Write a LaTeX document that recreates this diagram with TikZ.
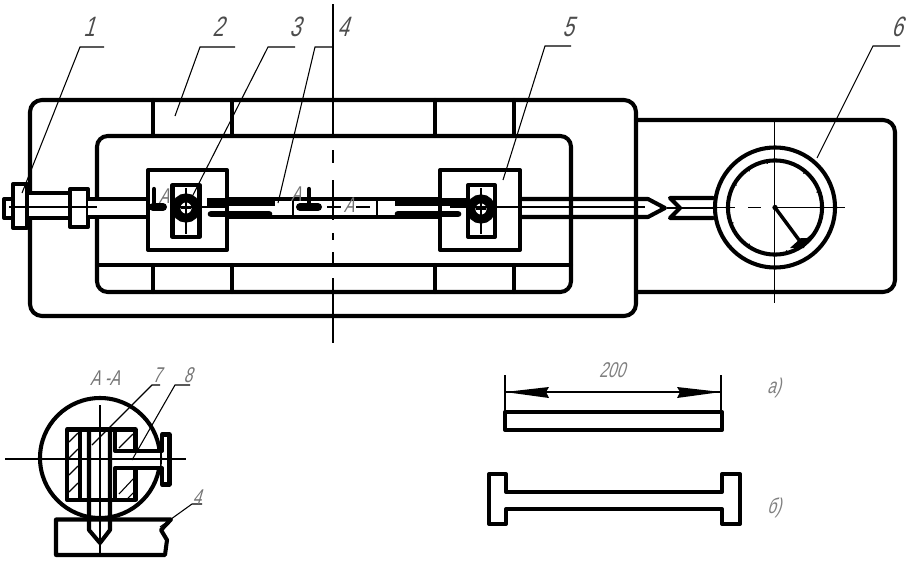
\documentclass[tikz,border=0pt]{standalone}
\usepackage{fontspec}
\setmainfont{Liberation Sans}
\newfontfamily\gost[FakeStretch=0.72,FakeSlant=0.3]{Liberation Sans}
\tikzset{
  thick line/.style={line width=3.05pt,line join=round,line cap=round},
  mid line/.style={line width=2pt,line join=round},
  thin line/.style={line width=0.8pt},
  lbl/.style={inner sep=0pt,text=black!70,font=\gost\fontsize{21}{21}\selectfont},
  slbl/.style={inner sep=0pt,text=black!55,font=\gost\fontsize{16}{16}\selectfont},
}
\begin{document}
\begin{tikzpicture}[x=0.75pt,y=-0.75pt]
\useasboundingbox (0,0) rectangle (915,564);
% housing
\draw[thick line,rounded corners=9] (636,120) -- (895,120) -- (895,292) -- (636,292);
\draw[thick line,rounded corners=9] (30,100) rectangle (636,316);
\draw[thick line,rounded corners=8] (97,136) rectangle (571,292);
\draw[thick line] (97,265) -- (571,265);
\foreach \x in {153,232,435,514}{
  \draw[thick line] (\x,100) -- (\x,136);
  \draw[thick line] (\x,265) -- (\x,292);
}
% left fitting
\draw[thick line,fill=white] (4,199) rectangle (13,218);
\draw[thick line,fill=white] (13,184) rectangle (27,228);
\draw[thick line,fill=white] (27,193) rectangle (70,218);
\draw[thick line,fill=white] (70,189) rectangle (88,227);
% rod
\fill[white] (88,200) rectangle (147,216);
\draw[thick line] (88,199) -- (147,199) (88,217) -- (147,217);
\draw[thick line] (228,199) -- (440,199) (228,217) -- (440,217);
\draw[thick line] (520,199) -- (648,199) -- (665,208) -- (648,217) -- (520,217);
\draw[thin line] (9,207) -- (97,207);
\draw[thin line] (520,207) -- (645,207);
% rod inner slots
\fill[white] (205,201) rectangle (436,215);
\fill (228,198) rectangle (275,206);
\draw[mid line] (293,199) -- (293,217) (377,199) -- (377,217);
% blocks
\draw[thick line,fill=white] (148,170) rectangle (227,250);
\draw[thick line] (172.5,185) rectangle (199.5,237);
\fill (207,198) rectangle (228,206);
\draw[line width=5pt,line cap=round] (211,214) -- (269,214);
\draw[thick line,fill=white] (440,170) rectangle (520,250);
\draw[thick line] (468,185) rectangle (495,237);
\fill (395,198) rectangle (468,206);
\draw[line width=5pt,line cap=round] (398,214) -- (458,214);
\draw[thin line] (186,188) -- (186,234) (176,207) -- (226,207);
\draw[thin line] (481,188) -- (481,234) (450,207) -- (518,207);
\draw[line width=6.6pt] (186,208) circle (7.6pt);
\draw[line width=6.6pt] (481,209) circle (7.6pt);
\draw[thin line] (186,203) -- (186,213) (181,208) -- (191,208);
\draw[thin line] (481,204) -- (481,214) (476,209) -- (486,209);
% section marks
\draw[line width=3.2pt,line cap=round] (154,189) -- (154,205);
\draw[line width=6pt,line cap=round] (153,207) -- (163,207);
\draw[line width=3.2pt,line cap=round] (309,189) -- (309,205);
\draw[line width=6pt,line cap=round] (300,207) -- (318,207);
\draw[thin line] (327,207) -- (341,207) (356,207) -- (370,207);
% centre line
\draw[thin line] (333,4) -- (333,136);
\draw[thin line] (333,150) -- (333,163) (333,180) -- (333,220) (333,233) -- (333,240) (333,252) -- (333,265) (333,278) -- (333,343);
% gauge stub
\draw[thick line] (713,198) -- (670,198) -- (680,208) -- (670,218) -- (713,218);
\draw[thin line] (667,208) -- (713,208);
% gauge
\draw[thick line,fill=white] (775,207.5) circle (45pt);
\draw[thick line] (775,207.5) circle (35.3pt);
\foreach \a in {20,50,100,125,150,200,235,285,310}{
  \draw[line width=0.8pt] (775,207.5) ++(\a:33.2pt) -- ++(\a:2pt);
}
\draw[thin line] (774.5,120) -- (774.5,303);
\draw[thin line] (713,207.5) -- (735,207.5) (748,207.5) -- (761,207.5) (775,207.5) -- (845,207.5);
\draw[line width=2.6pt] (775,207.5) -- (802,244);
\fill (790,248) -- (801,238) -- (808,238) -- (804,248) -- cycle;
\draw[thin line] (803,242) -- (815,232);
\fill (775,207.5) circle (2pt);
% leaders
\draw[thin line] (104,47) -- (80,47) -- (22,193);
\draw[thin line] (235,47) -- (200,47) -- (175,116);
\draw[thin line] (295,47) -- (268,47) -- (192,197);
\draw[thin line] (333,47) -- (315,47) -- (278,203);
\draw[thin line] (571,46) -- (545,46) -- (503,180);
\draw[thin line] (900,46) -- (873,46) -- (817,158);
\node[lbl] (n1) at (89,27) {1};
\node[lbl] (n2) at (218,27) {2};
\node[lbl] (n3) at (295,27) {3};
\node[lbl] (n4) at (343,27) {4};
\node[lbl] (n5) at (568,27) {5};
\node[lbl] (n6) at (897,27) {6};
\node[slbl] (sa1) at (164,196) {А};
\node[slbl] (sa2) at (296,194) {А};
\node[slbl] (sa3) at (349,205) {А};
% section A-A
\node[slbl] (aa) at (105,378) {А -А};
\draw[thick line] (100,458) circle (45pt);
\draw[thick line,fill=white] (67,429.5) rectangle (135.5,500);
\fill[white] (113,449) rectangle (160,470);
\draw[thick line] (80,430) -- (80,499);
\draw[thick line] (89,430) -- (89,530) -- (100,543) -- (110,530) -- (110,430);
\draw[thick line] (115,430) -- (115,451) -- (162,451) -- (162,434.5) -- (169.5,434.5) -- (169.5,484.5) -- (162,484.5) -- (162,468) -- (115,468) -- (115,499);
\draw[thin line] (69,492) -- (78,483) (69,475) -- (78,466) (69,458) -- (78,449) (69,442) -- (78,433);
\draw[thin line] (119,448) -- (133,434) (119,494) -- (134,478) (128,498) -- (134,492);
\draw[thin line] (100,405) -- (100,553);
\draw[thin line] (5,459) -- (186,459);
\draw[thin line] (92,445) -- (152,385) -- (160,385);
\draw[thin line] (132,460) -- (175,385) -- (190,385);
\draw[thick line,fill=white] (171,519.5) -- (56,519.5) -- (56,555) -- (165,555) -- (167,540) -- (161,530) -- cycle;
\draw[thin line] (100,519) -- (100,555);
\draw[thick line] (89,519.5) -- (89,530) -- (100,543) -- (110,530) -- (110,519.5);
\draw[thin line] (160,527) -- (192,504) -- (202,504);
\node[slbl] (n7) at (157,375) {7};
\node[slbl] (n8) at (188,375) {8};
\node[slbl] (n4b) at (197,497) {4};
% a)
\draw[thick line] (505,412) rectangle (722,430);
\draw[thin line] (505,375) -- (505,412) (721,375) -- (721,412);
\draw[thin line] (505,392) -- (721,392);
\fill (505,392) -- (549,387) -- (546,392) -- (549,398) -- cycle;
\fill (721,392) -- (677,387) -- (680,392) -- (677,398) -- cycle;
\node[slbl,text=black!50] (dim) at (612,370) {200};
\node[slbl,text=black!50] (la) at (774,388) {а)};
% b)
\draw[thick line] (489,474) -- (506,474) -- (506,492) -- (722,492) -- (722,474) -- (740,474) -- (740,524) -- (722,524) -- (722,509) -- (506,509) -- (506,524) -- (489,524) -- cycle;
\node[slbl,text=black!50] (lb) at (774,508) {б)};
\end{tikzpicture}
\end{document}
